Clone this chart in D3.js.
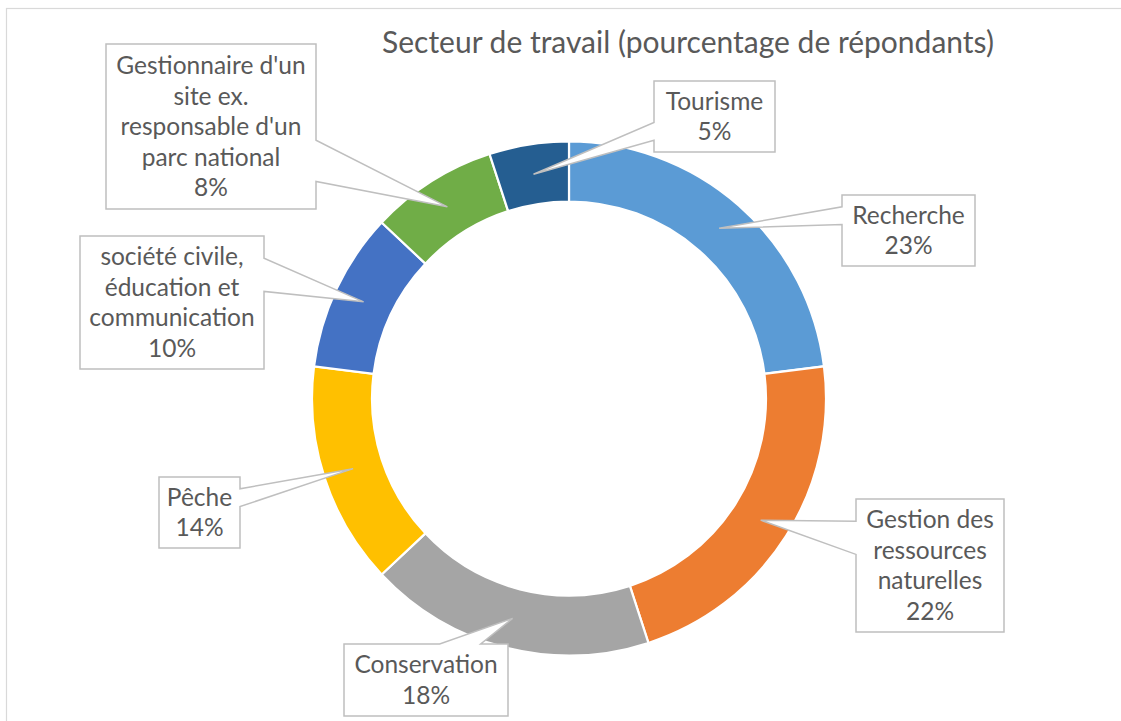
<!DOCTYPE html>
<html>
<head>
<meta charset="utf-8">
<script src="https://cdn.jsdelivr.net/npm/d3@7"></script>
<style>
  html, body { margin: 0; padding: 0; background: #ffffff; }
  svg { display: block; }
  text { font-family: Lato, "Open Sans", "DejaVu Sans", sans-serif; fill: #595959; }
</style>
</head>
<body>
<svg id="chart" width="1121" height="721"></svg>
<script>
// ---- Data ----
const title = "Secteur de travail (pourcentage de répondants)";
const categories = [
  "Recherche",
  "Gestion des ressources naturelles",
  "Conservation",
  "Pêche",
  "société civile, éducation et communication",
  "Gestionnaire d'un site ex. responsable d'un parc national",
  "Tourisme"
];
const values = [23, 22, 18, 14, 10, 8, 5];
const labelLines = [
  ["Recherche"],
  ["Gestion des", "ressources", "naturelles"],
  ["Conservation"],
  ["Pêche"],
  ["société civile,", "éducation et", "communication"],
  ["Gestionnaire d'un", "site ex.", "responsable d'un", "parc national"],
  ["Tourisme"]
];
const colors = ["#5B9BD5", "#ED7D31", "#A5A5A5", "#FFC000", "#4472C4", "#70AD47", "#255E91"];

// ---- Layout (label boxes: x, y, w, h) ----
const labelBoxes = [
  [842, 195, 133, 71],
  [856, 499, 148, 133],
  [344, 644, 164, 72],
  [159, 477, 81, 71],
  [80, 236, 184, 133],
  [106, 44, 210, 165],
  [654, 81, 121, 71]
];

const W = 1121, H = 721;
const cx = 569, cy = 398.5, outerR = 257, innerR = 197;
const lineH = 30.5;

const svg = d3.select("#chart");

// chart frame
svg.append("rect")
  .attr("x", 6.5).attr("y", 8.5)
  .attr("width", 1300).attr("height", 900)
  .attr("fill", "#ffffff")
  .attr("stroke", "#d9d9d9").attr("stroke-width", 1.2);

// title
svg.append("text")
  .attr("x", 688).attr("y", 53)
  .attr("text-anchor", "middle")
  .style("font-size", "30px")
  .text(title);

const data = categories.map((c, i) => ({ cat: c, value: values[i], color: colors[i], lines: labelLines[i], box: labelBoxes[i] }));

const pie = d3.pie().sort(null).value(d => d.value);
const arcs = pie(data);
const arc = d3.arc().innerRadius(innerR).outerRadius(outerR);

const g = svg.append("g").attr("transform", `translate(${cx},${cy})`);
g.selectAll("path.slice")
  .data(arcs)
  .join("path")
  .attr("class", "slice")
  .attr("d", arc)
  .attr("fill", d => d.data.color)
  .attr("stroke", "#ffffff")
  .attr("stroke-width", 2.2);

// wedge-rect callout path (Office preset geometry)
function calloutPath(box, tx, ty) {
  const [x0, y0, w, h] = box;
  const x1e = x0 + w, y1e = y0 + h;
  const dxPos = tx - (x0 + w / 2);
  const dyPos = ty - (y0 + h / 2);
  const horiz = Math.abs(dxPos * h) > Math.abs(dyPos * w);
  const ya = y0 + h * (dyPos > 0 ? 7 : 2) / 12;
  const yb = y0 + h * (dyPos > 0 ? 10 : 5) / 12;
  const xa = x0 + w * (dxPos > 0 ? 7 : 2) / 12;
  const xb = x0 + w * (dxPos > 0 ? 10 : 5) / 12;
  const p = d3.path();
  p.moveTo(x0, y0);
  if (!horiz && dyPos < 0) { p.lineTo(xa, y0); p.lineTo(tx, ty); p.lineTo(xb, y0); }
  p.lineTo(x1e, y0);
  if (horiz && dxPos > 0) { p.lineTo(x1e, ya); p.lineTo(tx, ty); p.lineTo(x1e, yb); }
  p.lineTo(x1e, y1e);
  if (!horiz && dyPos > 0) { p.lineTo(xb, y1e); p.lineTo(tx, ty); p.lineTo(xa, y1e); }
  p.lineTo(x0, y1e);
  if (horiz && dxPos < 0) { p.lineTo(x0, yb); p.lineTo(tx, ty); p.lineTo(x0, ya); }
  p.closePath();
  return p.toString();
}

const labels = svg.append("g");
arcs.forEach(a => {
  const [px, py] = arc.centroid(a);
  const tx = cx + px, ty = cy + py;
  const box = a.data.box;
  labels.append("path")
    .attr("d", calloutPath(box, tx, ty))
    .attr("fill", "#ffffff")
    .attr("stroke", "#bfbfbf")
    .attr("stroke-width", 1.5)
    .attr("stroke-linejoin", "miter");
  const lines = a.data.lines.concat([a.data.value + "%"]);
  const n = lines.length;
  const bx = box[0] + box[2] / 2, by = box[1] + box[3] / 2;
  const t = labels.append("text")
    .attr("text-anchor", "middle")
    .style("font-size", "24.5px");
  lines.forEach((l, i) => {
    t.append("tspan")
      .attr("x", bx)
      .attr("y", by + (i - (n - 1) / 2) * lineH + 8.5)
      .text(l);
  });
});
</script>
</body>
</html>
